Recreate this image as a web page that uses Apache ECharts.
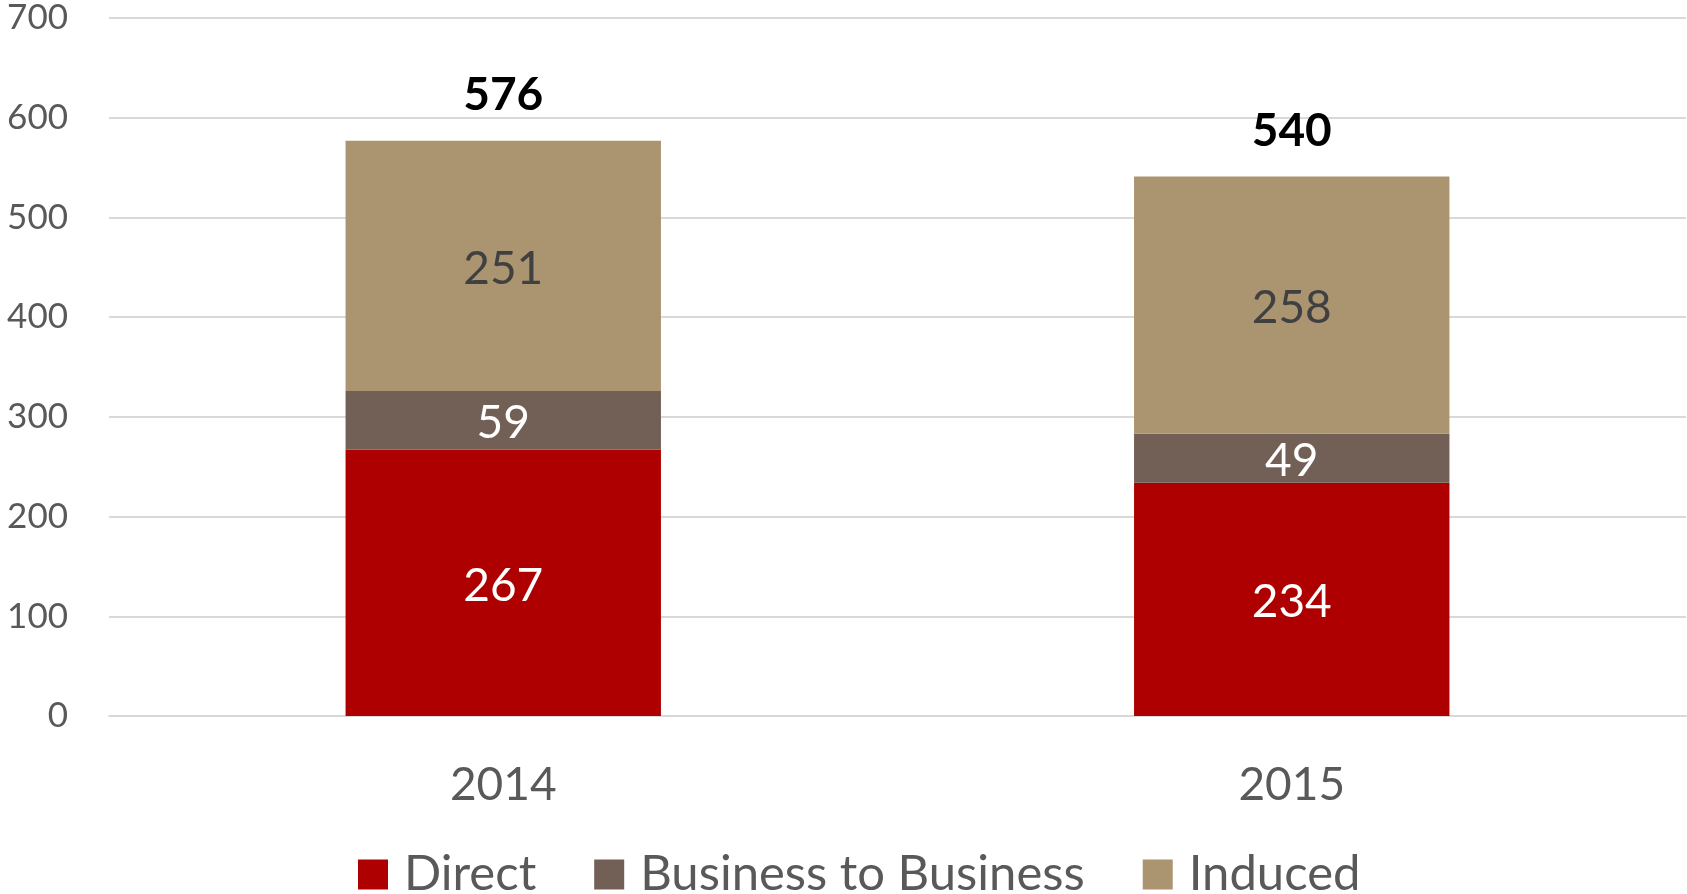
<!DOCTYPE html>
<html>
<head>
<meta charset="utf-8" />
<script src="https://cdn.jsdelivr.net/npm/echarts@6/dist/echarts.min.js"></script>
<style>
  html, body { margin: 0; padding: 0; background: #ffffff; }
  #chart { width: 1687px; height: 894px; }
</style>
</head>
<body>
<div id="chart"></div>
<script>
const years = ["2014", "2015"];
const direct = [267, 234];
const businessToBusiness = [59, 49];
const induced = [251, 258];
const totals = [576, 540];

const chart = echarts.init(document.getElementById("chart"));

const font = "Lato, 'Open Sans', sans-serif";

function segment(name, data, color, labelColor) {
  return {
    name: name,
    type: "bar",
    stack: "total",
    barWidth: "40%",
    data: data,
    itemStyle: { color: color },
    label: {
      show: true,
      position: "inside",
      offset: [0, 3],
      color: labelColor,
      fontSize: 46,
      fontFamily: font,
    },
  };
}

const option = {
  animation: false,
  grid: { left: 109, right: 1, top: 18, bottom: 178 },
  legend: {
    data: ["Direct", "Business to Business", "Induced"],
    left: 353,
    top: 845,
    itemWidth: 30,
    itemHeight: 30,
    itemGap: 58,
    icon: "rect",
    textStyle: {
      fontSize: 49,
      color: "#595959",
      fontFamily: font,
      padding: [0, 0, 0, 11],
    },
  },
  xAxis: {
    type: "category",
    data: years,
    axisTick: { show: false },
    axisLine: { lineStyle: { color: "#d9d9d9", width: 2 } },
    axisLabel: { fontSize: 46, color: "#595959", margin: 46, fontFamily: font },
  },
  yAxis: {
    type: "value",
    min: 0,
    max: 700,
    interval: 100,
    axisLine: { show: false },
    axisTick: { show: false },
    splitLine: { lineStyle: { color: "#d9d9d9", width: 2 } },
    axisLabel: { fontSize: 35, color: "#595959", margin: 41, fontFamily: font },
  },
  series: [
    segment("Direct", direct, "#ae0000", "#ffffff"),
    segment("Business to Business", businessToBusiness, "#725f55", "#ffffff"),
    segment("Induced", induced, "#ab9470", "#404040"),
    {
      name: "Total",
      type: "bar",
      stack: "total",
      barWidth: "40%",
      data: totals.map(() => 0),
      itemStyle: { color: "transparent" },
      label: {
        show: true,
        position: "top",
        distance: 22,
        color: "#000000",
        fontSize: 46,
        fontWeight: "bold",
        fontFamily: font,
        formatter: (p) => totals[p.dataIndex],
      },
    },
  ],
};

chart.setOption(option);
</script>
</body>
</html>
